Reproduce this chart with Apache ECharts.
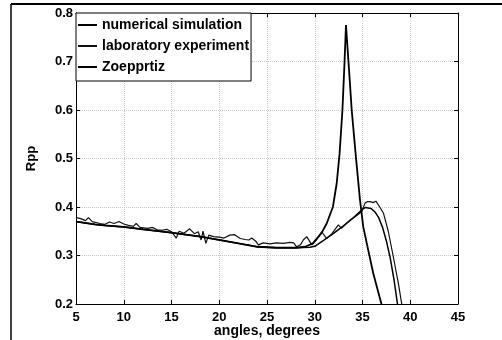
<!DOCTYPE html>
<html>
<head>
<meta charset="utf-8">
<script src="https://cdn.jsdelivr.net/npm/echarts@6/dist/echarts.min.js"></script>
<style>
  html, body { margin: 0; padding: 0; background: #fff; }
  #chart { width: 502px; height: 340px; }
</style>
</head>
<body>
<div id="chart"></div>
<script>
// numerical simulation (smooth curve)
var simAngles = [5, 7, 8, 10, 12, 15, 18, 20, 22, 24, 26, 28, 29.5, 30, 31, 32, 33, 34, 35, 35.3, 35.9, 36.3, 36.7, 37.1, 37.5, 37.9, 38.3, 38.7];
var simValues = [0.370, 0.364, 0.362, 0.359, 0.354, 0.347, 0.339, 0.332, 0.325, 0.318, 0.316, 0.316, 0.317, 0.319, 0.332, 0.346, 0.361, 0.377, 0.395, 0.399, 0.397, 0.390, 0.378, 0.358, 0.330, 0.295, 0.250, 0.195];

// laboratory experiment (noisy curve)
var labAngles = [5, 5.5, 6, 6.3, 6.7, 7.5, 8, 8.5, 9, 9.5, 10, 10.5, 11, 11.3, 11.7, 12.5, 13, 13.5, 14, 14.5, 15, 15.5, 15.8, 16.3, 16.9, 17.4, 17.8, 18.1, 18.3, 18.6, 18.9, 19.4, 20, 20.5, 21.1, 21.6, 22.2, 22.7, 23.1, 23.4, 23.8, 24.1, 24.6, 25.3, 26, 26.7, 27.4, 27.8, 28.1, 28.5, 28.8, 29.15, 29.7, 30.2, 30.73, 31.25, 31.8, 32.47, 32.8, 33.3, 33.7, 34.3, 34.9, 35.26, 35.5, 35.8, 36.1, 36.4, 36.8, 37.2, 37.7, 38.2, 38.75, 39.15];
var labValues = [0.378, 0.376, 0.372, 0.378, 0.370, 0.366, 0.364, 0.369, 0.366, 0.370, 0.365, 0.362, 0.360, 0.366, 0.358, 0.356, 0.358, 0.353, 0.352, 0.354, 0.349, 0.336, 0.350, 0.346, 0.355, 0.345, 0.349, 0.332, 0.350, 0.325, 0.342, 0.339, 0.338, 0.336, 0.342, 0.343, 0.335, 0.333, 0.332, 0.336, 0.330, 0.322, 0.326, 0.324, 0.326, 0.325, 0.327, 0.326, 0.318, 0.322, 0.332, 0.339, 0.322, 0.333, 0.349, 0.335, 0.345, 0.363, 0.356, 0.366, 0.373, 0.381, 0.390, 0.408, 0.411, 0.411, 0.409, 0.412, 0.400, 0.387, 0.350, 0.300, 0.243, 0.195];

// Zoeppritz (sharp peak)
var zoeAngles = [5, 7, 8, 10, 12, 15, 18, 20, 22, 24, 26, 28, 29, 29.8, 30.7, 31.25, 31.9, 32.3, 32.6, 32.9, 33.1, 33.27, 33.6, 33.87, 34.3, 34.74, 35.08, 35.6, 36.13, 37.05];
var zoeValues = [0.370, 0.364, 0.362, 0.359, 0.354, 0.347, 0.339, 0.332, 0.325, 0.318, 0.316, 0.316, 0.318, 0.325, 0.346, 0.366, 0.400, 0.449, 0.510, 0.600, 0.690, 0.775, 0.680, 0.600, 0.505, 0.414, 0.359, 0.311, 0.263, 0.195];

var xTicks = { min: 5, max: 45, step: 5 };
var yTicks = { min: 0.2, max: 0.8, step: 0.1 };

function pairs(xs, ys) {
  return xs.map(function (x, i) { return [x, ys[i]]; });
}

var chart = echarts.init(document.getElementById("chart"), null, { renderer: "canvas" });
var FONT = "Liberation Sans, Arial, sans-serif";
var tickFont = { fontFamily: FONT, fontWeight: "bold", fontSize: 13, color: "#000" };

var option = {
  backgroundColor: "#fff",
  animation: false,
  grid: { left: 76, right: 44, top: 13, bottom: 36, containLabel: false, outerBoundsMode: "none" },
  legend: {
    orient: "vertical",
    left: 76,
    top: 13,
    padding: [4, 2, 6, 2],
    icon: "rect",
    itemWidth: 19,
    itemHeight: 2,
    itemGap: 5,
    borderColor: "#000",
    borderWidth: 1,
    backgroundColor: "#fff",
    textStyle: { fontFamily: FONT, fontWeight: "bold", fontSize: 14, color: "#000", lineHeight: 16 },
    data: ["numerical simulation", "laboratory experiment", "Zoepprtiz"]
  },
  xAxis: [
    {
      type: "value",
      min: xTicks.min, max: xTicks.max, interval: xTicks.step,
      name: "angles, degrees",
      nameLocation: "middle",
      nameGap: 20,
      nameMoveOverlap: false,
      nameTextStyle: { fontFamily: FONT, fontWeight: "bold", fontSize: 14, color: "#000" },
      axisLine: { show: true, lineStyle: { color: "#000", width: 1 } },
      axisTick: { show: true, inside: true, length: 4, lineStyle: { color: "#000" } },
      axisLabel: Object.assign({ margin: 7 }, tickFont),
      splitLine: { show: true, lineStyle: { color: "#c8c8c8", type: "dotted", width: 1 } }
    },
    {
      type: "value", position: "top",
      min: xTicks.min, max: xTicks.max, interval: xTicks.step,
      axisLine: { show: true, lineStyle: { color: "#000", width: 1 } },
      axisTick: { show: true, inside: true, length: 4, lineStyle: { color: "#000" } },
      axisLabel: { show: false },
      splitLine: { show: false }
    }
  ],
  yAxis: [
    {
      type: "value",
      min: yTicks.min, max: yTicks.max, interval: yTicks.step,
      name: "Rpp",
      nameLocation: "middle",
      nameGap: 38,
      nameMoveOverlap: false,
      nameTextStyle: { fontFamily: FONT, fontWeight: "bold", fontSize: 13, color: "#000" },
      axisLine: { show: true, lineStyle: { color: "#000", width: 1 } },
      axisTick: { show: true, inside: true, length: 4, lineStyle: { color: "#000" } },
      axisLabel: Object.assign({ margin: 3, formatter: function (v) { return v.toFixed(1); } }, tickFont),
      splitLine: { show: true, lineStyle: { color: "#c8c8c8", type: "dotted", width: 1 } }
    },
    {
      type: "value", position: "right",
      min: yTicks.min, max: yTicks.max, interval: yTicks.step,
      axisLine: { show: true, lineStyle: { color: "#000", width: 1 } },
      axisTick: { show: true, inside: true, length: 4, lineStyle: { color: "#000" } },
      axisLabel: { show: false },
      splitLine: { show: false }
    }
  ],
  series: [
    {
      name: "numerical simulation", type: "line", symbol: "none", clip: true,
      lineStyle: { color: "#000", width: 1.5 }, itemStyle: { color: "#000" },
      data: pairs(simAngles, simValues)
    },
    {
      name: "laboratory experiment", type: "line", symbol: "none", clip: true,
      lineStyle: { color: "#111", width: 1.2 }, itemStyle: { color: "#111" },
      data: pairs(labAngles, labValues)
    },
    {
      name: "Zoepprtiz", type: "line", symbol: "none", clip: true,
      lineStyle: { color: "#000", width: 1.8 }, itemStyle: { color: "#000" },
      data: pairs(zoeAngles, zoeValues)
    }
  ],
  // scanned page frame
  graphic: [
    { type: "line", shape: { x1: 11, y1: 4, x2: 502, y2: 4 }, style: { stroke: "#000", lineWidth: 2 } },
    { type: "line", shape: { x1: 11, y1: 4, x2: 11, y2: 340 }, style: { stroke: "#000", lineWidth: 1.5 } }
  ]
};
chart.setOption(option);
</script>
</body>
</html>
